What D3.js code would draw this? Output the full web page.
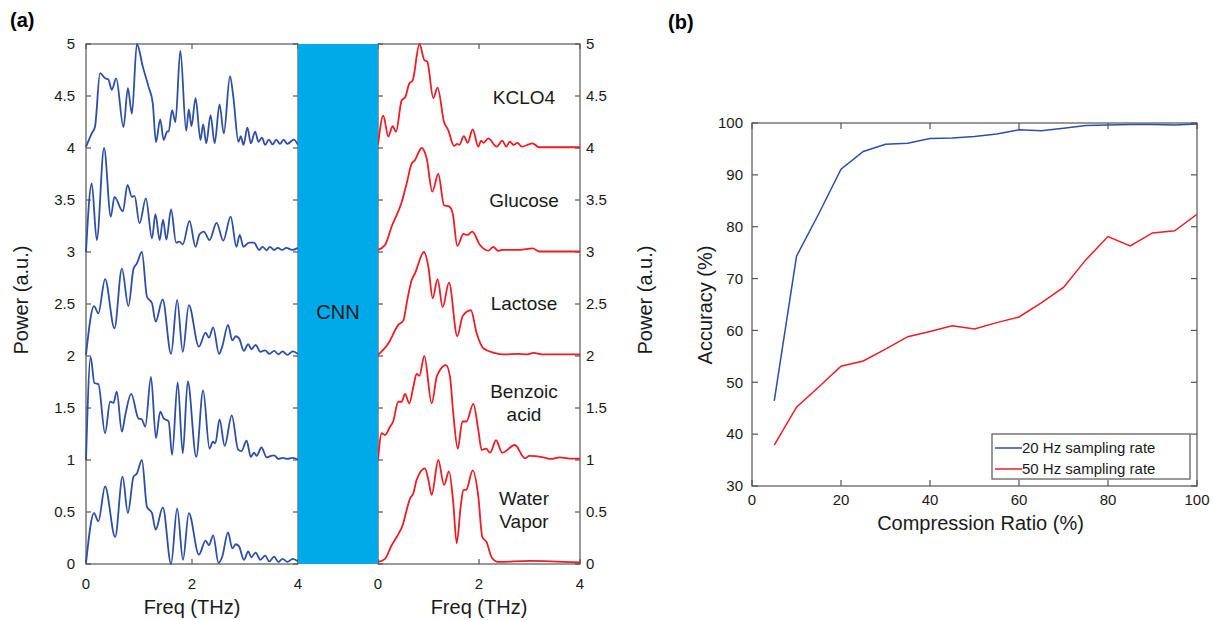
<!DOCTYPE html>
<html>
<head>
<meta charset="utf-8">
<script src="https://cdn.jsdelivr.net/npm/d3@7"></script>
<style>
  body { margin: 0; background: #fff; }
  svg { font-family: "Liberation Sans", Arial, sans-serif; }
  .axis-line { stroke: #555; stroke-width: 1.2; fill: none; }
  .tick-text { font-size: 15px; fill: #1a1a1a; }
  .label { font-size: 20px; fill: #1a1a1a; }
  .sample { font-size: 19px; fill: #1a1a1a; }
</style>
</head>
<body>
<svg id="chart" width="1213" height="620"></svg>
<script>
'use strict';

// ---- panel (a) spectra, [freq THz, power a.u.] (offset included) ----
var kclo4In = [[0,4.01],[0.108,4.14],[0.17,4.205],[0.265,4.72],[0.36,4.67],[0.42,4.66],[0.487,4.56],[0.57,4.67],[0.707,4.2],[0.79,4.575],[0.866,4.33],[0.96,5.0],[1.073,4.78],[1.18,4.59],[1.26,4.43],[1.32,4.055],[1.40,4.275],[1.466,4.077],[1.53,4.157],[1.56,4.16],[1.624,4.365],[1.687,4.25],[1.78,4.935],[1.89,4.166],[1.94,4.37],[1.99,4.21],[2.067,4.48],[2.16,4.077],[2.21,4.228],[2.27,4.045],[2.35,4.317],[2.427,4.045],[2.52,4.42],[2.60,4.14],[2.717,4.69],[2.78,4.49],[2.876,4.06],[2.92,4.115],[2.97,4.03],[3.046,4.195],[3.11,4.045],[3.19,4.157],[3.255,4.06],[3.32,4.1],[3.38,4.03],[3.45,4.08],[3.52,4.035],[3.59,4.08],[3.66,4.04],[3.73,4.08],[3.80,4.04],[3.92,4.08],[4.0,4.03]];
var glucoseIn = [[0,3.0],[0.108,3.66],[0.203,3.115],[0.341,4.0],[0.468,3.34],[0.537,3.53],[0.695,3.39],[0.783,3.645],[0.866,3.53],[0.916,3.54],[1.01,3.276],[1.13,3.516],[1.245,3.13],[1.31,3.365],[1.39,3.115],[1.453,3.31],[1.517,3.12],[1.605,3.41],[1.70,3.09],[1.763,3.1],[1.826,3.074],[1.953,3.30],[2.066,3.05],[2.142,3.17],[2.224,3.195],[2.33,3.115],[2.464,3.28],[2.59,3.11],[2.73,3.34],[2.838,3.05],[2.9,3.164],[2.97,3.05],[3.077,3.09],[3.17,3.09],[3.267,3.02],[3.33,3.05],[3.41,3.017],[3.47,3.05],[3.55,3.02],[3.62,3.04],[3.7,3.02],[3.78,3.04],[3.89,3.02],[4.0,3.04]];
var lactoseIn = [[0,2.01],[0.152,2.48],[0.233,2.41],[0.36,2.74],[0.537,2.266],[0.677,2.84],[0.80,2.48],[0.897,2.84],[0.96,2.89],[1.055,3.0],[1.15,2.57],[1.245,2.507],[1.314,2.33],[1.446,2.545],[1.605,2.02],[1.72,2.54],[1.826,2.04],[1.94,2.49],[2.13,2.09],[2.256,2.224],[2.32,2.176],[2.40,2.276],[2.51,2.02],[2.57,2.09],[2.68,2.30],[2.76,2.15],[2.825,2.19],[2.888,2.17],[2.98,2.05],[3.06,2.115],[3.12,2.065],[3.2,2.107],[3.29,2.04],[3.38,2.055],[3.46,2.02],[3.55,2.05],[3.63,2.017],[3.71,2.045],[3.80,2.01],[3.9,2.045],[4.0,2.02]];
var benzoicIn = [[0,1.0],[0.088,1.99],[0.158,1.74],[0.233,1.73],[0.36,1.257],[0.455,1.56],[0.518,1.55],[0.58,1.657],[0.677,1.272],[0.74,1.43],[0.853,1.635],[0.99,1.40],[1.055,1.39],[1.118,1.32],[1.226,1.80],[1.32,1.21],[1.40,1.465],[1.466,1.40],[1.56,1.37],[1.624,1.05],[1.73,1.745],[1.826,1.065],[1.92,1.755],[2.08,1.03],[2.21,1.67],[2.33,1.11],[2.395,1.176],[2.44,1.16],[2.52,1.39],[2.616,1.135],[2.75,1.43],[2.87,1.10],[2.93,1.085],[3.03,1.185],[3.11,1.03],[3.17,1.07],[3.22,1.04],[3.31,1.12],[3.41,1.025],[3.49,1.04],[3.55,1.045],[3.63,1.01],[3.71,1.02],[3.80,1.01],[3.9,1.02],[4.0,1.005]];
var waterIn = [[0,0.007],[0.152,0.49],[0.233,0.41],[0.36,0.745],[0.55,0.26],[0.69,0.84],[0.79,0.49],[0.897,0.84],[0.96,0.87],[1.055,1.0],[1.15,0.55],[1.245,0.49],[1.314,0.33],[1.45,0.545],[1.605,0.0],[1.72,0.535],[1.83,0.04],[1.94,0.49],[2.13,0.09],[2.256,0.225],[2.32,0.18],[2.40,0.275],[2.50,0.01],[2.57,0.07],[2.68,0.305],[2.76,0.15],[2.825,0.19],[2.888,0.17],[2.98,0.04],[3.06,0.12],[3.12,0.065],[3.2,0.11],[3.29,0.04],[3.38,0.08],[3.46,0.025],[3.55,0.07],[3.63,0.02],[3.71,0.05],[3.80,0.02],[3.9,0.05],[4.0,0.025]];

var kclo4Out = [[0,4.03],[0.105,4.31],[0.204,4.11],[0.29,4.21],[0.356,4.157],[0.47,4.46],[0.535,4.485],[0.62,4.62],[0.687,4.65],[0.82,5.0],[0.917,4.846],[0.976,4.83],[1.095,4.48],[1.18,4.58],[1.307,4.25],[1.392,4.17],[1.505,4.02],[1.57,4.04],[1.61,4.03],[1.70,4.115],[1.775,4.05],[1.875,4.18],[1.986,4.013],[2.04,4.07],[2.09,4.05],[2.184,4.093],[2.35,4.013],[2.46,4.07],[2.54,4.013],[2.61,4.06],[2.69,4.03],[2.76,4.05],[2.85,4.013],[3.056,4.045],[3.19,4.007],[4.0,4.007]];
var glucoseOut = [[0,3.02],[0.139,3.067],[0.27,3.245],[0.47,3.48],[0.568,3.66],[0.667,3.85],[0.733,3.885],[0.865,4.0],[0.964,3.9],[1.075,3.58],[1.194,3.75],[1.307,3.45],[1.412,3.436],[1.48,3.37],[1.57,3.058],[1.69,3.173],[1.77,3.164],[1.867,3.195],[2.02,3.067],[2.184,3.013],[2.283,3.05],[2.38,3.01],[2.45,3.02],[2.81,3.02],[3.06,3.035],[3.2,3.005],[4.0,3.005]];
var lactoseOut = [[0,2.01],[0.204,2.12],[0.402,2.30],[0.50,2.34],[0.58,2.54],[0.667,2.73],[0.733,2.795],[0.91,3.0],[0.997,2.86],[1.083,2.555],[1.18,2.74],[1.28,2.47],[1.406,2.705],[1.57,2.19],[1.677,2.385],[1.84,2.44],[1.954,2.218],[2.086,2.074],[2.30,2.03],[2.5,2.015],[2.77,2.02],[2.95,2.015],[3.08,2.03],[3.25,2.015],[4.0,2.015]];
var benzoicOut = [[0,1.0],[0.073,1.257],[0.139,1.24],[0.238,1.32],[0.30,1.37],[0.40,1.56],[0.47,1.56],[0.535,1.635],[0.62,1.545],[0.70,1.705],[0.766,1.827],[0.82,1.81],[0.917,2.0],[1.063,1.545],[1.162,1.80],[1.228,1.865],[1.347,1.913],[1.426,1.80],[1.49,1.45],[1.58,1.11],[1.67,1.37],[1.75,1.37],[1.887,1.54],[1.986,1.29],[2.053,1.096],[2.14,1.11],[2.22,1.07],[2.337,1.19],[2.46,1.07],[2.71,1.144],[2.91,1.016],[3.0,1.04],[3.27,1.026],[3.43,1.01],[3.6,1.026],[3.8,1.013],[4.0,1.013]];
var waterOut = [[0,0.02],[0.139,0.05],[0.27,0.18],[0.37,0.26],[0.50,0.39],[0.568,0.52],[0.634,0.63],[0.70,0.68],[0.766,0.81],[0.931,0.92],[0.997,0.81],[1.063,0.665],[1.194,1.0],[1.307,0.76],[1.406,0.89],[1.49,0.59],[1.558,0.20],[1.637,0.55],[1.69,0.71],[1.75,0.715],[1.875,0.90],[1.986,0.65],[2.065,0.26],[2.15,0.21],[2.25,0.065],[2.38,0.02],[3.0,0.03],[4.0,0.015]];

var spectraIn = [kclo4In, glucoseIn, lactoseIn, benzoicIn, waterIn];
var spectraOut = [kclo4Out, glucoseOut, lactoseOut, benzoicOut, waterOut];
var sampleNames = [['KCLO4'], ['Glucose'], ['Lactose'], ['Benzoic', 'acid'], ['Water', 'Vapor']];
var sampleLabelY = [4.49, 3.5, 2.51, 1.55, 0.52];
var powerTicks = [0, 0.5, 1, 1.5, 2, 2.5, 3, 3.5, 4, 4.5, 5];
var freqTicks = [0, 2, 4];

// ---- panel (b) accuracy ----
var ratios = [5,10,15,20,25,30,35,40,45,50,55,60,65,70,75,80,85,90,95,100];
var acc20 = [46.4,74.3,82.5,91.1,94.5,95.9,96.1,97.0,97.1,97.4,97.9,98.7,98.5,99.0,99.5,99.6,99.7,99.7,99.6,99.8];
var acc50 = [37.9,45.2,49.1,53.1,54.1,56.4,58.8,59.8,60.9,60.3,61.5,62.6,65.3,68.3,73.6,78.1,76.3,78.8,79.2,82.4];
var seriesNames = ['20 Hz sampling rate', '50 Hz sampling rate'];
var accTicks = [30, 40, 50, 60, 70, 80, 90, 100];
var ratioTicks = [0, 20, 40, 60, 80, 100];

var BLUE = '#2f4ea6';
var RED = '#ee1c25';
var CYAN = '#00a9e8';

var svg = d3.select('#chart');

// panel labels
svg.append('text').attr('x', 10).attr('y', 27).attr('font-size', 20).attr('font-weight', 'bold').text('(a)');
svg.append('text').attr('x', 668).attr('y', 29).attr('font-size', 20).attr('font-weight', 'bold').text('(b)');

var yA = d3.scaleLinear().domain([0, 5]).range([564, 44]);
var xIn = d3.scaleLinear().domain([0, 4]).range([86, 298]);
var xOut = d3.scaleLinear().domain([0, 4]).range([378, 580]);

function frame(g, x, y, xTicks, yTicks, tickLen) {
    var x0 = x.range()[0], x1 = x.range()[1];
    var y0 = y.range()[0], y1 = y.range()[1];
    g.append('rect')
        .attr('class', 'axis-line')
        .attr('x', x0).attr('y', y1)
        .attr('width', x1 - x0).attr('height', y0 - y1);
    xTicks.forEach(function(t) {
        g.append('line').attr('class', 'axis-line')
            .attr('x1', x(t)).attr('x2', x(t)).attr('y1', y0).attr('y2', y0 - tickLen);
        g.append('line').attr('class', 'axis-line')
            .attr('x1', x(t)).attr('x2', x(t)).attr('y1', y1).attr('y2', y1 + tickLen);
    });
    yTicks.forEach(function(t) {
        g.append('line').attr('class', 'axis-line')
            .attr('x1', x0).attr('x2', x0 + tickLen).attr('y1', y(t)).attr('y2', y(t));
        g.append('line').attr('class', 'axis-line')
            .attr('x1', x1).attr('x2', x1 - tickLen).attr('y1', y(t)).attr('y2', y(t));
    });
}

var specLine = function(x) {
    return d3.line()
        .x(function(d) { return x(d[0]); })
        .y(function(d) { return yA(d[1]); })
        .curve(d3.curveMonotoneX);
};

// ---- left (input) spectra ----
var gIn = svg.append('g');
frame(gIn, xIn, yA, freqTicks, powerTicks, 5);
gIn.selectAll('path.spec')
    .data(spectraIn)
    .enter()
    .append('path')
    .attr('class', 'spec')
    .attr('fill', 'none')
    .attr('stroke', BLUE)
    .attr('stroke-width', 1.8)
    .attr('d', specLine(xIn));

gIn.selectAll('text.yt')
    .data(powerTicks)
    .enter()
    .append('text')
    .attr('class', 'tick-text yt')
    .attr('x', 75)
    .attr('y', function(d) { return yA(d); })
    .attr('dy', '0.35em')
    .attr('text-anchor', 'end')
    .text(function(d) { return d; });

// ---- right (output) spectra ----
var gOut = svg.append('g');
frame(gOut, xOut, yA, freqTicks, powerTicks, 5);
gOut.selectAll('path.spec')
    .data(spectraOut)
    .enter()
    .append('path')
    .attr('class', 'spec')
    .attr('fill', 'none')
    .attr('stroke', RED)
    .attr('stroke-width', 1.8)
    .attr('d', specLine(xOut));

gOut.selectAll('text.yt')
    .data(powerTicks)
    .enter()
    .append('text')
    .attr('class', 'tick-text yt')
    .attr('x', 586)
    .attr('y', function(d) { return yA(d); })
    .attr('dy', '0.35em')
    .text(function(d) { return d; });

sampleNames.forEach(function(lines, i) {
    var t = gOut.append('text')
        .attr('class', 'sample')
        .attr('text-anchor', 'middle')
        .attr('x', 524)
        .attr('y', yA(sampleLabelY[i]));
    lines.forEach(function(s, j) {
        t.append('tspan').attr('x', 524)
            .attr('dy', j === 0 ? (lines.length === 1 ? '0.35em' : '-0.25em') : '1.2em')
            .text(s);
    });
});

// CNN block
svg.append('rect')
    .attr('x', xIn(4)).attr('y', yA(5))
    .attr('width', xOut(0) - xIn(4)).attr('height', yA(0) - yA(5))
    .attr('fill', CYAN);
svg.append('text').attr('class', 'label')
    .attr('x', (xIn(4) + xOut(0)) / 2).attr('y', 312)
    .attr('dy', '0.35em').attr('text-anchor', 'middle')
    .text('CNN');

// x tick labels
[[gIn, xIn], [gOut, xOut]].forEach(function(p) {
    p[0].selectAll('text.xt')
        .data(freqTicks)
        .enter()
        .append('text')
        .attr('class', 'tick-text xt')
        .attr('x', function(d) { return p[1](d); })
        .attr('y', 584)
        .attr('dy', '0.35em')
        .attr('text-anchor', 'middle')
        .text(function(d) { return d; });
    svg.append('text').attr('class', 'label')
        .attr('x', (p[1].range()[0] + p[1].range()[1]) / 2)
        .attr('y', 607).attr('dy', '0.35em')
        .attr('text-anchor', 'middle')
        .text('Freq (THz)');
});

svg.append('text').attr('class', 'label')
    .attr('transform', 'translate(21,300) rotate(-90)')
    .attr('dy', '0.35em').attr('text-anchor', 'middle')
    .text('Power (a.u.)');
svg.append('text').attr('class', 'label')
    .attr('transform', 'translate(645,300) rotate(-90)')
    .attr('dy', '0.35em').attr('text-anchor', 'middle')
    .text('Power (a.u.)');

// ---- panel (b) ----
var xB = d3.scaleLinear().domain([0, 100]).range([752, 1197]);
var yB = d3.scaleLinear().domain([30, 100]).range([486, 123]);
var gB = svg.append('g');
frame(gB, xB, yB, ratioTicks, accTicks, 6);

var accLine = d3.line()
    .x(function(d) { return xB(d[0]); })
    .y(function(d) { return yB(d[1]); });

[[acc20, BLUE], [acc50, RED]].forEach(function(s) {
    gB.append('path')
        .datum(d3.zip(ratios, s[0]))
        .attr('fill', 'none')
        .attr('stroke', s[1])
        .attr('stroke-width', 1.5)
        .attr('d', accLine);
});

gB.selectAll('text.yt')
    .data(accTicks)
    .enter()
    .append('text')
    .attr('class', 'tick-text yt')
    .attr('x', 743)
    .attr('y', function(d) { return yB(d); })
    .attr('dy', '0.35em')
    .attr('text-anchor', 'end')
    .text(function(d) { return d; });

gB.selectAll('text.xt')
    .data(ratioTicks)
    .enter()
    .append('text')
    .attr('class', 'tick-text xt')
    .attr('x', function(d) { return xB(d); })
    .attr('y', 500)
    .attr('dy', '0.35em')
    .attr('text-anchor', 'middle')
    .text(function(d) { return d; });

svg.append('text').attr('class', 'label')
    .attr('x', (xB.range()[0] + xB.range()[1]) / 2 + 6).attr('y', 523)
    .attr('dy', '0.35em').attr('text-anchor', 'middle')
    .text('Compression Ratio (%)');
svg.append('text').attr('class', 'label')
    .attr('transform', 'translate(705,305) rotate(-90)')
    .attr('dy', '0.35em').attr('text-anchor', 'middle')
    .text('Accuracy (%)');

// legend
var leg = gB.append('g').attr('transform', 'translate(992,434)');
leg.append('rect').attr('width', 198).attr('height', 45)
    .attr('fill', '#fff').attr('stroke', '#555').attr('stroke-width', 1.2);
[BLUE, RED].forEach(function(c, i) {
    var yy = 14 + i * 21;
    leg.append('line').attr('x1', 3).attr('x2', 30).attr('y1', yy).attr('y2', yy)
        .attr('stroke', c).attr('stroke-width', 1.5);
    leg.append('text').attr('x', 30).attr('y', yy).attr('dy', '0.35em')
        .attr('font-size', 15).attr('fill', '#1a1a1a')
        .text(seriesNames[i]);
});
</script>
</body>
</html>
